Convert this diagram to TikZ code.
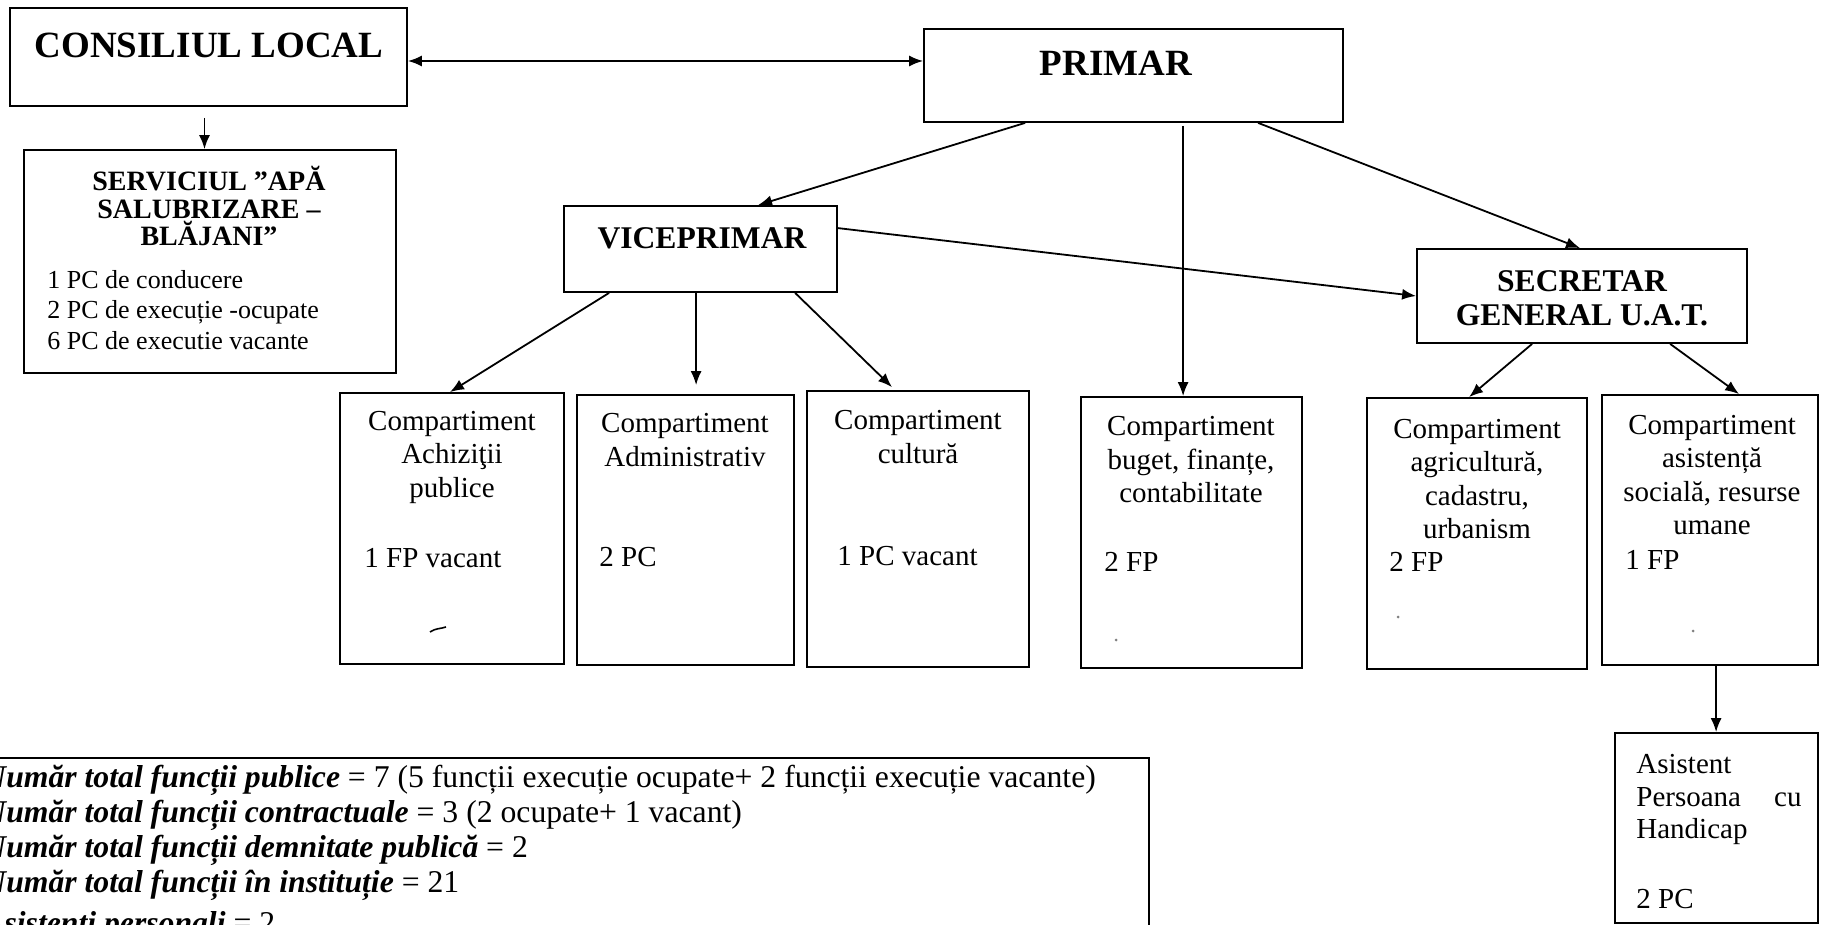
\documentclass[tikz,border=0pt]{standalone}
\usepackage{fontspec}
\setmainfont{Liberation Serif}
\usetikzlibrary{arrows.meta,calc,fit}
\tikzset{
  box/.style={draw, line width=0.9pt, inner sep=0pt},
  arr/.style={line width=0.9pt, -{Latex[length=7pt,width=5.5pt]}},
  dbl/.style={line width=0.9pt, {Latex[length=7pt,width=5.5pt]}-{Latex[length=7pt,width=5.5pt]}},
  txt/.style={inner sep=0pt, align=center},
  big/.style={txt, font={\fontsize{18.5pt}{21pt}\selectfont\bfseries}},
  head/.style={txt, font={\fontsize{15.8pt}{17pt}\selectfont\bfseries}},
  shead/.style={txt, font={\fontsize{14pt}{13.75pt}\selectfont\bfseries}},
  sbody/.style={txt, align=left, font={\fontsize{13pt}{15.25pt}\selectfont}},
  ctext/.style={txt, font={\fontsize{14.5pt}{16.75pt}\selectfont}},
  vtext/.style={inner sep=0pt, anchor=west, font={\fontsize{14.5pt}{16.75pt}\selectfont}},
  ftext/.style={inner sep=0pt, anchor=base west, font={\fontsize{15.85pt}{17pt}\selectfont}},
}
\begin{document}
\begin{tikzpicture}[x=0.5pt,y=-0.5pt]
\useasboundingbox (0,0) rectangle (1821,925);
\fill[white] (0,0) rectangle (1821,925);
\clip (0,0) rectangle (1821,925);

% boxes
\node[box, fit={(10,8)(407,106)}] (cl) {};
\node[box, fit={(24,150)(396,373)}] (serv) {};
\node[box, fit={(924,29)(1343,122)}] (primar) {};
\node[box, fit={(564,206)(837,292)}] (vice) {};
\node[box, fit={(1417,249)(1747,343)}] (secr) {};
\node[box, fit={(340,393)(564,664)}] (achiz) {};
\node[box, fit={(577,395)(794,665)}] (admin) {};
\node[box, fit={(807,391)(1029,667)}] (cult) {};
\node[box, fit={(1081,397)(1302,668)}] (buget) {};
\node[box, fit={(1367,398)(1587,669)}] (agric) {};
\node[box, fit={(1602,395)(1818,665)}] (asist) {};
\node[box, fit={(1615,733)(1818,923)}] (asph) {};
\node[box, fit={(-30,758)(1149,960)}] (total) {};

% titles
\node[big] (tcl) at (209,45) {CONSILIUL LOCAL};
\node[big] (tprimar) at (1116,63) {PRIMAR};
\node[head] (tvice) at (702,238) {VICEPRIMAR};
\node[head] (tsecr) at (1582,298) {SECRETAR\\GENERAL U.A.T.};
\node[shead] (tserv) at (209,206) {SERVICIUL ”APĂ\\SALUBRIZARE –\\BLĂJANI”};
\node[sbody, anchor=north west] (bserv) at (47,270) {1 PC de conducere\\2 PC de execuție -ocupate\\6 PC de executie vacante};

% compartment headings
\node[ctext] (tachiz) at (452,457) {Compartiment\\Achiziţii\\publice};
\node[ctext] (tadmin) at (685,440) {Compartiment\\Administrativ};
\node[ctext] (tcult) at (918,437) {Compartiment\\cultură};
\node[ctext] (tbuget) at (1191,460) {Compartiment\\buget, finanțe,\\contabilitate};
\node[ctext] (tagric) at (1477,479) {Compartiment\\agricultură,\\cadastru,\\urbanism};
\node[ctext] (tasist) at (1712,475) {Compartiment\\asistență\\socială, resurse\\umane};

% values
\node[vtext] (vachiz) at (364,558) {1 FP vacant};
\node[vtext] (vadmin) at (599,557) {2 PC};
\node[vtext] (vcult) at (837,556) {1 PC vacant};
\node[vtext] (vbuget) at (1104,562) {2 FP};
\node[vtext] (vagric) at (1389,562) {2 FP};
\node[vtext] (vasist) at (1625,560) {1 FP};

% asistent persoana cu handicap
\node[vtext, anchor=base west] (ph1) at (1636,773) {Asistent};
\node[vtext, anchor=base west] (ph2) at (1636,806) {Persoana};
\node[vtext, anchor=base east] (ph3) at (1802,806) {cu};
\node[vtext, anchor=base west] (ph4) at (1636,838) {Handicap};
\node[vtext, anchor=base west] (ph5) at (1636,908) {2 PC};

% totals
\node[ftext] (f1) at (-17,787) {\textbf{\textit{Număr total funcții publice}} = 7 (5 funcții execuție ocupate+ 2 funcții execuție vacante)};
\node[ftext] (f2) at (-17,822) {\textbf{\textit{Număr total funcții contractuale}} = 3 (2 ocupate+ 1 vacant)};
\node[ftext] (f3) at (-17,857) {\textbf{\textit{Număr total funcții demnitate publică}} = 2};
\node[ftext] (f4) at (-17,892) {\textbf{\textit{Număr total funcții în instituție}} = 21};
\node[ftext] (f5) at (-17,933) {\textbf{\textit{Asistenți personali}} = 2};

% connectors
\draw[dbl] ($(cl.east)+(0,4)$) coordinate (d1) -- (d1 -| primar.west);
\draw[arr] ($(cl.south)+(-4,11)$) coordinate (d2) -- (d2 |- serv.north);
\draw[arr] ($(primar.south west)+(102,0)$) -- ($(vice.north west)+(195,0)$);
\draw[arr] ($(primar.south west)+(260,3)$) coordinate (d3) -- (d3 |- buget.north);
\draw[arr] ($(primar.south west)+(335,0)$) -- ($(secr.north)+(-2,0)$);
\draw[arr] ($(vice.north east)+(0,23)$) -- (secr.west);
\draw[arr] ($(vice.south west)+(46,0)$) -- ($(achiz.north)+(-2,0)$);
\draw[arr] ($(vice.south west)+(133,0)$) coordinate (d4) -- ($(d4 |- admin.north)+(0,-9)$);
\draw[arr] ($(vice.south west)+(232,0)$) -- ($(cult.north)+(-26,-3)$);
\draw[arr] ($(secr.south west)+(116,0)$) -- ($(agric.north west)+(103,0)$);
\draw[arr] ($(secr.south west)+(254,0)$) -- ($(asist.north west)+(138,0)$);
\draw[arr] ($(asist.south west)+(115,0)$) coordinate (d5) -- (d5 |- asph.north);

% scan marks
\draw[line width=0.8pt] (430,632) .. controls (436,628) and (440,629) .. (446,627);
\fill[gray] (1116,640) circle (1.5);
\fill[gray] (1398,617) circle (1.5);
\fill[gray] (1693,631) circle (1.5);
\end{tikzpicture}
\end{document}
